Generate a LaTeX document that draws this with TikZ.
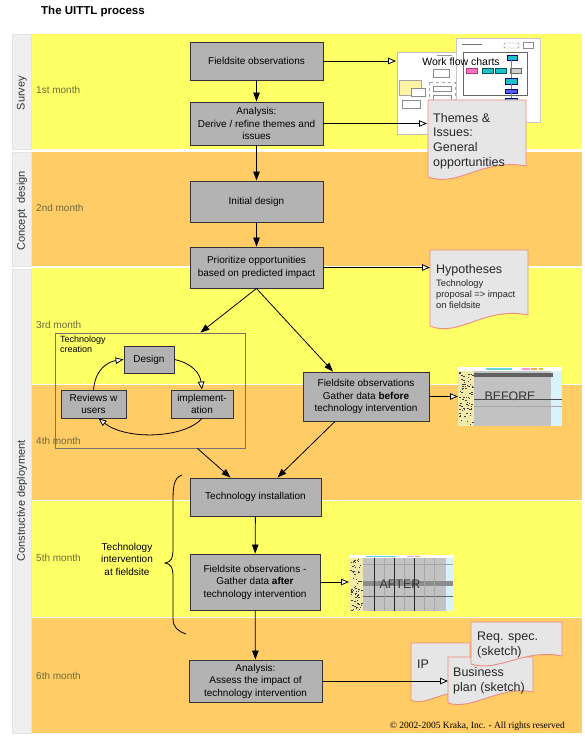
\documentclass[tikz,border=0pt]{standalone}
\usepackage{fontspec}
\setmainfont{Liberation Sans}
\newfontfamily\serifcopy{Liberation Serif}
\usetikzlibrary{arrows.meta,calc}
\definecolor{yband}{HTML}{FFFF66}
\definecolor{oband}{HTML}{FFCC66}
\definecolor{boxgray}{HTML}{B3B3B3}
\definecolor{docfill}{HTML}{E6E6E6}
\definecolor{docline}{HTML}{EE8A80}
\definecolor{monthcol}{HTML}{6B6B3A}
\definecolor{stripcol}{HTML}{EFEFEF}
\definecolor{tealbox}{HTML}{20C0C8}
\definecolor{speckbg}{HTML}{F2EAA8}
\definecolor{shotgray}{HTML}{C2C2C2}
\begin{document}
\begin{tikzpicture}[x=1pt,y=-1pt,
  procbox/.style={draw=black!80, fill=boxgray, line width=0.9pt, align=center,
    inner sep=0pt, font=\fontsize{10}{12.5}\selectfont},
  arr/.style={-{Triangle[width=6.5pt,length=9pt]}, line width=0.8pt},
  oarr/.style={-{Triangle[width=6.5pt,length=8pt,fill=white]}, line width=0.8pt},
  doc/.style={fill=docfill, draw=docline, line width=0.9pt},
  month/.style={anchor=base west, inner sep=0pt, text=monthcol, font=\fontsize{10}{12}\selectfont},
  strip/.style={fill=stripcol, draw=black!10, line width=0.6pt},
  vlabel/.style={rotate=90, text=black!80, font=\fontsize{11}{13}\selectfont, inner sep=0pt},
  doctext/.style={anchor=north west, align=left, inner sep=0pt, text=black!85},
  thumb/.style={fill=white, draw=black!25, line width=0.6pt},
  mini/.style={fill=white, draw=black!45, line width=0.4pt}
]
\path[use as bounding box] (0,0) rectangle (584,746);
\fill[white] (0,0) rectangle (584,746);

% bands
\fill[yband] (32,34) rectangle (582,149);
\fill[oband] (32,152) rectangle (582,266);
\fill[yband] (32,268) rectangle (582,383.5);
\fill[oband] (32,384.5) rectangle (582,500);
\fill[yband] (32,501) rectangle (582,617);
\fill[oband] (32,618) rectangle (582,733);

% phase strips
\filldraw[strip] (12,34) rectangle (31,149);
\filldraw[strip] (12,152) rectangle (31,266);
\filldraw[strip] (12,269) rectangle (31,733);
\node[vlabel] (lsurvey) at (22,93) {Survey};
\node[vlabel] (lconcept) at (22,211) {Concept\hspace{0.55em}design};
\node[vlabel] (ldeploy) at (22,501) {Constructive deployment};

% title
\node[anchor=base west, inner sep=0pt, font=\bfseries\fontsize{11.5}{13}\selectfont] (title) at (41,15) {The UITTL process};

% months
\node[month] (m1) at (36,94) {1st month};
\node[month] (m2) at (36,211) {2nd month};
\node[month] (m3) at (36,328) {3rd month};
\node[month] (m4) at (36,444) {4th month};
\node[month] (m5) at (36,561) {5th month};
\node[month] (m6) at (36,679) {6th month};

% ---------- work flow chart thumbnails ----------
\filldraw[thumb] (397,52) rectangle (482,134);
\filldraw[fill=orange!25!yellow!35, draw=black!35, line width=0.4pt] (399,80) rectangle (421,95);
\filldraw[mini] (411,88) rectangle (425,96);
\filldraw[mini] (433,69) rectangle (449,77);
\draw[black!35, dashed, line width=0.4pt] (429,82) rectangle (455,103);
\filldraw[mini] (433,86) rectangle (451,91);
\filldraw[mini] (433,95) rectangle (451,100);
\filldraw[mini] (402,100) rectangle (420,108);
\draw[black!40, line width=0.5pt] (437,55) -- (452,55);
\filldraw[thumb, draw=black!22] (456,38) rectangle (540,122);
\draw[black!60, line width=0.5pt] (463,52) rectangle (527,95);
\draw[black!55, line width=0.8pt] (462,44) -- (482,44);
\filldraw[mini, rounded corners=1pt] (504,43) rectangle (519,48);
\filldraw[mini] (523,42) rectangle (533,48);
\filldraw[fill=magenta!55, draw=magenta!70!black, line width=0.4pt] (466,68) rectangle (477,73);
\filldraw[fill=tealbox, draw=teal!70!black, line width=0.4pt] (482,68) rectangle (493,73);
\filldraw[fill=tealbox, draw=teal!70!black, line width=0.4pt] (495,68) rectangle (506,73);
\filldraw[fill=green!15!black!20, draw=black!60, line width=0.4pt] (510,68) rectangle (521,73);
\filldraw[fill=tealbox, draw=blue!60!black, line width=0.4pt] (507,55) rectangle (517,60);
\filldraw[fill=tealbox, draw=blue!60!black, line width=0.4pt] (505,78) rectangle (517,84);
\filldraw[fill=blue!65, draw=blue!50!black, line width=0.4pt] (505,89) rectangle (517,93);
\filldraw[fill=tealbox, draw=blue!60!black, line width=0.4pt] (505,98) rectangle (517,103);
\draw[black!50, line width=0.3pt] (511,60) -- (511,78) (511,84) -- (511,89) (511,93) -- (511,98);
\node[anchor=base, inner sep=0pt, font=\fontsize{10.5}{12}\selectfont] (wfc) at (461,66) {Work flow charts};
\coordinate (wfin) at (396,61);

% ---------- documents ----------
\filldraw[doc] (428,100) -- (526,100) -- (526,166) .. controls (482,158) and (458,188) .. (428,177) -- cycle;
\node[doctext, font=\fontsize{12.5}{14.7}\selectfont] (themes) at (433,113) {Themes \&\\Issues:\\General\\opportunities};
\coordinate (themin) at (427,123.5);

\filldraw[doc] (430,250) -- (528,250) -- (528,315) .. controls (485,306) and (458,338) .. (430,326) -- cycle;
\node[anchor=base west, inner sep=0pt, text=black!85, font=\fontsize{12.5}{14}\selectfont] (hyptitle) at (436,273) {Hypotheses};
\node[doctext, font=\fontsize{9.3}{11}\selectfont] (hyptext) at (436,280) {Technology\\proposal => impact\\on fieldsite};
\coordinate (hypin) at (430,267.5);

\filldraw[doc] (411,643) -- (470,643) -- (470,693) .. controls (445,688) and (425,707) .. (411,700) -- cycle;
\node[anchor=base west, inner sep=0pt, text=black!85, font=\fontsize{12.5}{14}\selectfont] (ip) at (417,668) {IP};
\filldraw[doc] (448,657) -- (533,657) -- (533,692) .. controls (500,685) and (472,711) .. (448,703) -- cycle;
\node[doctext, font=\fontsize{12.5}{15.5}\selectfont] (biz) at (453,667) {Business\\plan (sketch)};
\coordinate (bizin) at (448,681);
\filldraw[doc] (471,622) -- (562,622) -- (562,656) .. controls (525,648) and (497,673) .. (471,664) -- cycle;
\node[doctext, font=\fontsize{12.5}{15}\selectfont] (req) at (477,632) {Req. spec.\\(sketch)};

% ---------- BEFORE screenshot ----------
\fill[shotgray] (458,367) rectangle (562,426);
\fill[white] (458,367) rectangle (562,371);
\fill[tealbox!70] (486,367.6) rectangle (512,369.6);
\fill[magenta!40] (522,367.6) rectangle (530,369.6);
\fill[orange!70] (531,367.6) rectangle (537,369.6);
\fill[yellow!80!black] (539,367.6) rectangle (543,369.6);
\fill[cyan!15] (551,371) rectangle (562,426);
\fill[speckbg] (458,371) rectangle (474,426);
\fill[black!62] (474,373) rectangle (553,377);
\pgfmathsetseed{11}
\foreach \i in {1,...,70}{\fill[black!75] ({459+13.5*rnd},{372+53*rnd}) rectangle ++(1.5,0.9);}
\draw[black!35, line width=0.5pt] (474,406) -- (562,406);
\node[inner sep=0pt, text=black!80, font=\fontsize{12.4}{14}\selectfont] (before) at (510,396) {BEFORE};
\draw[black!70, line width=1.2pt] (474,399.5) -- (562,399.5);
\coordinate (befin) at (458,396.5);

% ---------- AFTER screenshot ----------
\fill[shotgray] (349,555) rectangle (453,611);
\fill[white] (349,555) rectangle (453,558);
\fill[tealbox!70] (366,555.6) rectangle (396,557.4);
\fill[magenta!40] (407,555.6) rectangle (414,557.4);
\fill[orange!70] (415,555.6) rectangle (420,557.4);
\fill[cyan!15] (446,558) rectangle (453,611);
\fill[speckbg] (349,558) rectangle (363,611);
\pgfmathsetseed{5}
\foreach \i in {1,...,65}{\fill[black!75] ({350+11.5*rnd},{559+51*rnd}) rectangle ++(1.5,0.9);}
\fill[black!45] (363,581) rectangle (453,586);
\draw[black!60, line width=0.7pt] (363,596) -- (453,596);
\draw[black!35, line width=0.4pt] (363,564) -- (453,564);
\foreach \xx in {384,404,424,434}{\draw[black!35, line width=0.4pt] (\xx,558) -- (\xx,611);}
\node[inner sep=0pt, text=black!80, font=\fontsize{12.4}{14}\selectfont] (after) at (400,584) {AFTER};
\foreach \xx in {374,394,414}{\draw[black!85, line width=0.8pt] (\xx,558) -- (\xx,611);}
\coordinate (aftin) at (349,582);

% ---------- process boxes ----------
\node[procbox, minimum width=133pt, minimum height=38pt] (fo) at (256.5,61) {Fieldsite observations};
\node[procbox, minimum width=133pt, minimum height=43pt] (ana) at (256.5,123.5) {Analysis:\\Derive / refine themes and\\issues};
\node[procbox, minimum width=133pt, minimum height=41pt] (init) at (256.5,201.5) {Initial design};
\node[procbox, minimum width=133pt, minimum height=41pt] (prio) at (256.5,267.5) {Prioritize opportunities\\based on predicted impact};
\node[procbox, minimum width=126pt, minimum height=49pt] (bef) at (366,396.5) {Fieldsite observations\\Gather data \textbf{before}\\technology intervention};
\node[procbox, minimum width=131pt, minimum height=38pt] (inst) at (255.5,497) {Technology installation};
\node[procbox, minimum width=130pt, minimum height=56pt] (aft) at (255,582) {Fieldsite observations -\\Gather data \textbf{after}\\technology intervention};
\node[procbox, minimum width=133pt, minimum height=42pt] (ass) at (255.5,681) {Analysis:\\Assess the impact of\\technology intervention};

% technology creation group
\node[draw=black!55, line width=0.8pt, minimum width=190pt, minimum height=115pt, inner sep=0pt] (tc) at (150,390.5) {};
\node[anchor=north west, align=left, inner sep=0pt, font=\fontsize{9}{10}\selectfont] (tclabel) at (60,336) {Technology\\creation};
\node[procbox, minimum width=50pt, minimum height=27pt] (design) at (149,359.5) {Design};
\node[procbox, minimum width=65pt, minimum height=28pt] (rev) at (93.5,404) {Reviews w\\users};
\node[procbox, minimum width=62pt, minimum height=28pt] (impl) at (202,404) {implement-\\ation};

\draw[oarr] (design.east) .. controls +(18,4) and +(-2,-16) .. (impl.north);
\draw[oarr] (rev.north) .. controls +(2,-22) and +(-14,2) .. (design.west);
\draw[oarr] (impl.south) .. controls +(-18,20) and +(28,22) .. ([xshift=5pt]rev.south);

% main flow
\draw[arr] (fo) -- (ana);
\draw[arr] (ana) -- (init);
\draw[arr] (init) -- (prio);
\draw[arr] (prio.south) -- ([xshift=-45pt]tc.north east);
\draw[arr] (prio.south) -- ([xshift=-33pt]bef.north);
\draw[arr] ([xshift=-48pt]tc.south east) -- ([xshift=-25pt]inst.north);
\draw[arr] ([xshift=-31pt]bef.south) -- ([xshift=22pt]inst.north);
\draw[arr] (inst) -- (aft);
\draw[arr] (aft) -- (ass);

% outputs
\draw[oarr] (fo.east) -- (wfin);
\draw[oarr] (ana.east) -- (themin);
\draw[oarr] (prio.east) -- (hypin);
\draw[oarr] (bef.east) -- (befin);
\draw[oarr] (aft.east) -- (aftin);
\draw[oarr] (ass.east) -- (bizin);

% brace
\coordinate (bt) at (182,475);
\coordinate (bm) at (165,563);
\coordinate (bb) at (186,634);
\draw[line width=0.8pt] (bt) .. controls (173,478) and (173,488) .. (173,505) -- (173,548)
  .. controls (173,559) and (171,562) .. (bm)
  .. controls (171,564) and (173,567) .. (173,578) -- (173,618)
  .. controls (173,628) and (178,631) .. (bb);
\node[align=center, inner sep=0pt, font=\fontsize{10}{12.5}\selectfont] (interv) at (127,559) {Technology\\intervention\\at fieldsite};

% copyright
\node[anchor=base east, inner sep=0pt, font=\serifcopy\fontsize{9.5}{11}\selectfont] (copy) at (565,728) {© 2002-2005 Kraka, Inc. - All rights reserved};
\end{tikzpicture}
\end{document}
